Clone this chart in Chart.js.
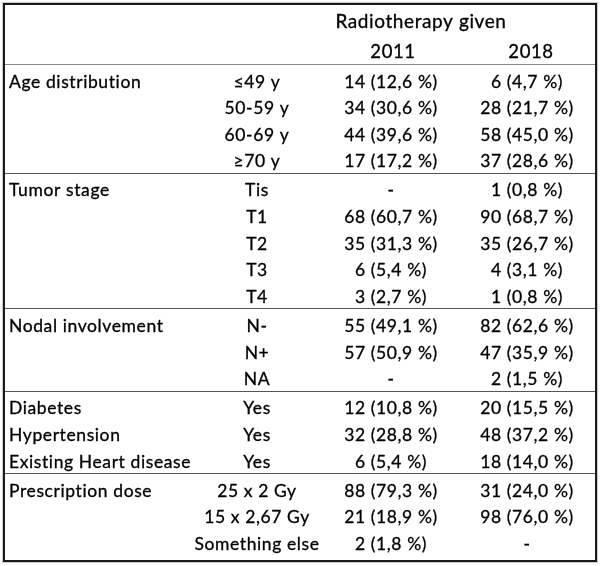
<!DOCTYPE html>
<html><head><meta charset="utf-8">
<script src="https://cdn.jsdelivr.net/npm/chart.js@4"></script>
<style>html,body{margin:0;padding:0;background:#fff}#wrap{width:600px;height:566px}</style>
</head><body><div id="wrap"><canvas id="c" width="600" height="566"></canvas></div>
<script>
const spanHeader = "Radiotherapy given";
const columnHeaders = ["2011", "2018"];
const categoryLabels = ["Age distribution","","","","Tumor stage","","","","","Nodal involvement","","","Diabetes","Hypertension","Existing Heart disease","Prescription dose","",""];
const subLabels = ["≤49 y","50-59 y","60-69 y","≥70 y","Tis","T1","T2","T3","T4","N-","N+","NA","Yes","Yes","Yes","25 x 2 Gy","15 x 2,67 Gy","Something else"];
const values2011 = ["14 (12,6 %)","34 (30,6 %)","44 (39,6 %)","17 (17,2 %)","-","68 (60,7 %)","35 (31,3 %)","6 (5,4 %)","3 (2,7 %)","55 (49,1 %)","57 (50,9 %)","-","12 (10,8 %)","32 (28,8 %)","6 (5,4 %)","88 (79,3 %)","21 (18,9 %)","2 (1,8 %)"];
const values2018 = ["6 (4,7 %)","28 (21,7 %)","58 (45,0 %)","37 (28,6 %)","1 (0,8 %)","90 (68,7 %)","35 (26,7 %)","4 (3,1 %)","1 (0,8 %)","82 (62,6 %)","47 (35,9 %)","2 (1,5 %)","20 (15,5 %)","48 (37,2 %)","18 (14,0 %)","31 (24,0 %)","98 (76,0 %)","-"];
const groupSizes = [4, 5, 3, 3, 3];

// layout
const FONT = "Lato";
const BODY_SIZE = 17.5;
const YEAR_SIZE = 18.5;
const SPAN_SIZE = 19;
const LETTER_SPACING = '0.6px';
const COL_X = {cat: 9, sub: 257, y2011: 391, y2018: 527, span: 421, h2011: 393, h2018: 531};
const GROUP_GAP = 0.09;
const LINE_OFFSET = 0.44;

const rowGroup = [];
groupSizes.forEach((n, g) => { for (let i = 0; i < n; i++) rowGroup.push(g); });
const rowPos = rowGroup.map((g, i) => i + g * GROUP_GAP);
const groupEnds = [];
{ let acc = 0; groupSizes.forEach(n => { acc += n; groupEnds.push(acc - 1); }); }

function textSet(label, xs, texts, align, size) {
  return {
    label, type: 'scatter', pointRadius: 0, pointHoverRadius: 0,
    data: texts.map((t, i) => ({x: xs, y: rowPos[i]})),
    texts, align, size
  };
}

const datasets = [
  textSet('cat', COL_X.cat, categoryLabels, 'left', BODY_SIZE),
  textSet('sub', COL_X.sub, subLabels, 'center', BODY_SIZE),
  textSet('2011', COL_X.y2011, values2011, 'center', BODY_SIZE),
  textSet('2018', COL_X.y2018, values2018, 'center', BODY_SIZE),
  {label: 'hdr', type: 'scatter', pointRadius: 0, data: [{x: COL_X.span, y: -2.25}, {x: COL_X.h2011, y: -1.126}, {x: COL_X.h2018, y: -1.126}],
   texts: [spanHeader, columnHeaders[0], columnHeaders[1]], align: 'center', sizes: [SPAN_SIZE, YEAR_SIZE, YEAR_SIZE]}
];

const tablePlugin = {
  id: 'tablePlugin',
  beforeDraw(chart) {
    const ctx = chart.ctx;
    ctx.save();
    ctx.fillStyle = '#fff';
    ctx.fillRect(0, 0, chart.width, chart.height);
    ctx.restore();
  },
  afterDatasetsDraw(chart) {
    const ctx = chart.ctx;
    const ys = chart.scales.y;
    const left = 4, right = 596, top = 4, bottom = 561;
    ctx.save();
    ctx.lineWidth = 1;
    ctx.strokeStyle = '#8c8c8c';
    const hy = Math.round(ys.getPixelForValue(-0.638)) + 0.5;
    ctx.beginPath(); ctx.moveTo(left, hy); ctx.lineTo(right, hy); ctx.stroke();
    ctx.strokeStyle = '#555';
    groupEnds.slice(0, -1).forEach(r => {
      const y = Math.round(ys.getPixelForValue(rowPos[r] + LINE_OFFSET)) + 0.5;
      ctx.beginPath(); ctx.moveTo(left, y); ctx.lineTo(right, y); ctx.stroke();
    });
    ctx.strokeStyle = '#c8c8c8';
    ctx.lineWidth = 1;
    ctx.strokeRect(left - 1.5, top - 1.5, right - left + 3, bottom - top + 3);
    ctx.strokeStyle = '#1a1a1a';
    ctx.lineWidth = 2;
    ctx.strokeRect(left, top, right - left, bottom - top);
    ctx.fillStyle = '#000';
    ctx.strokeStyle = '#000';
    ctx.lineWidth = 0.3;
    if ('letterSpacing' in ctx) ctx.letterSpacing = LETTER_SPACING;
    chart.data.datasets.forEach((ds, di) => {
      const meta = chart.getDatasetMeta(di);
      meta.data.forEach((pt, i) => {
        const t = ds.texts[i];
        if (!t) return;
        const size = ds.sizes ? ds.sizes[i] : ds.size;
        ctx.font = size + 'px ' + FONT;
        ctx.textAlign = ds.align;
        ctx.textBaseline = 'alphabetic';
        const cap = ctx.measureText('H').actualBoundingBoxAscent;
        const y = pt.y + cap / 2;
        ctx.fillText(t, pt.x, y);
        ctx.strokeText(t, pt.x, y);
      });
    });
    ctx.restore();
  }
};

new Chart(document.getElementById('c'), {
  type: 'scatter',
  data: {datasets},
  options: {
    responsive: false,
    animation: false,
    events: [],
    layout: {padding: 0},
    plugins: {legend: {display: false}, tooltip: {enabled: false}, title: {display: false}},
    scales: {
      x: {type: 'linear', min: 0, max: 600, display: false},
      y: {type: 'linear', reverse: true, min: -81 / 26.65, max: (566 - 81) / 26.65, display: false}
    }
  },
  plugins: [tablePlugin]
});
</script></body></html>
